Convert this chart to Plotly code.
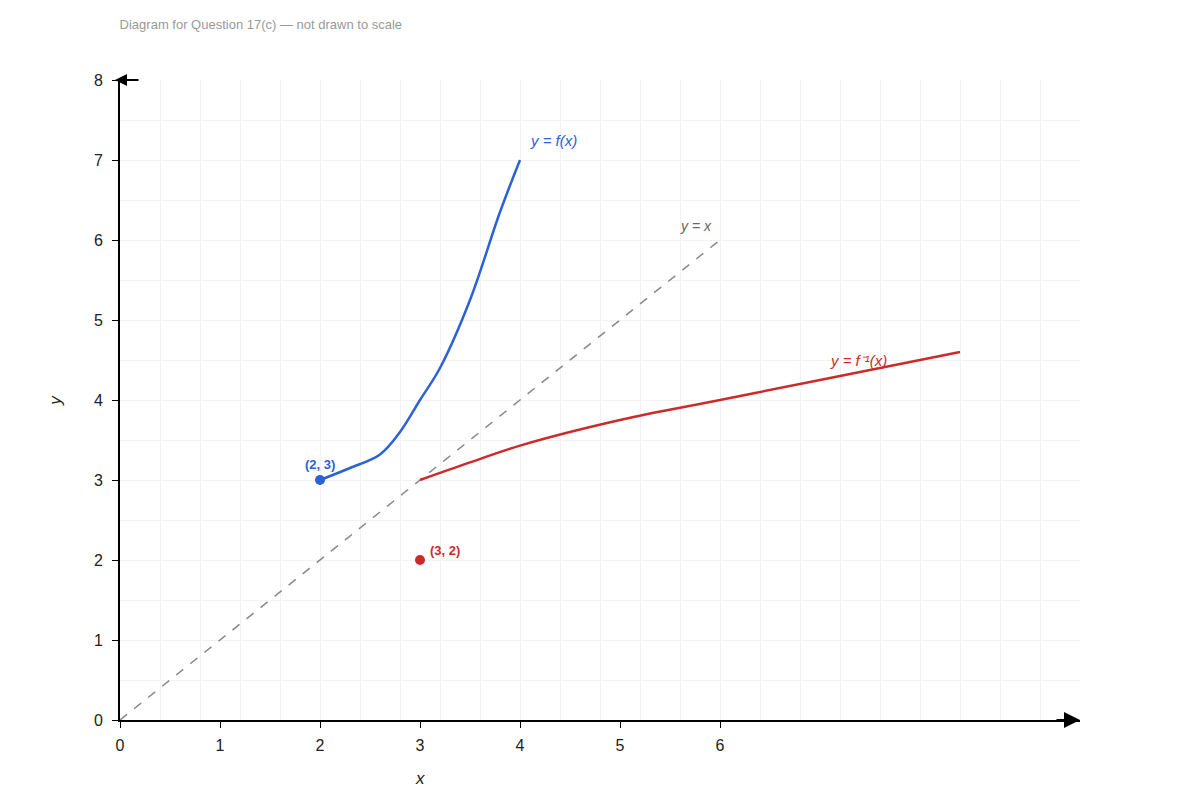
import plotly.graph_objects as go

# Curve points.
f_x = [2.0, 2.3, 2.6, 2.8, 3.0, 3.2, 3.5, 3.8, 4.0]
f_y = [3.0, 3.15, 3.32, 3.6, 4.0, 4.4, 5.25, 6.35, 7.0]
finv_x = [3.0, 3.5, 4.0, 5.0, 6.0, 7.0, 8.4]
finv_y = [3.0, 3.22, 3.43, 3.75, 4.0, 4.25, 4.6]
line_x = [0, 6]
x_ticks = [0, 1, 2, 3, 4, 5, 6]
y_ticks = [0, 1, 2, 3, 4, 5, 6, 7, 8]

fig = go.Figure()
fig.add_scatter(x=line_x, y=line_x, mode='lines',
                line=dict(color='#888888', width=1.5, dash='dash'))
fig.add_scatter(x=f_x, y=f_y, mode='lines',
                line=dict(color='#2b62d6', width=2.5, shape='spline'))
fig.add_scatter(x=finv_x, y=finv_y, mode='lines',
                line=dict(color='#cc2b2b', width=2.5, shape='spline'))
fig.add_scatter(x=[2], y=[3], mode='markers', marker=dict(color='#2b62d6', size=10))
fig.add_scatter(x=[3], y=[2], mode='markers', marker=dict(color='#cc2b2b', size=10))

annotations = [
    dict(x=4.08, y=7.25, text='<i>y = f(x)</i>', font=dict(color='#2b62d6', size=15), xanchor='left'),
    dict(x=5.58, y=6.18, text='<i>y = x</i>', font=dict(color='#666666', size=14), xanchor='left'),
    dict(x=7.08, y=4.5, text='<i>y = f⁻¹(x)</i>', font=dict(color='#cc2b2b', size=15), xanchor='left'),
    dict(x=2.0, y=3.2, text='<b>(2, 3)</b>', font=dict(color='#2b62d6', size=13)),
    dict(x=3.08, y=2.12, text='<b>(3, 2)</b>', font=dict(color='#cc2b2b', size=13), xanchor='left'),
    dict(x=0.305, y=-0.11, xref='paper', yref='paper', text='<i>x</i>',
         font=dict(size=17, color='#222')),
    dict(x=-0.08, y=0.5, xref='paper', yref='paper', text='<i>y</i>',
         font=dict(size=17, color='#222'), textangle=-90),
    # axis arrowheads
    dict(x=9.6, y=0, ax=9.35, ay=0, axref='x', ayref='y', text='', showarrow=True,
         arrowhead=2, arrowsize=1.6, arrowwidth=2, arrowcolor='black'),
    dict(x=-0.05, y=8, ax=0.2, ay=8, axref='x', ayref='y', text='', showarrow=True,
         arrowhead=2, arrowsize=1.2, arrowwidth=2, arrowcolor='black'),
]
for a in annotations:
    a.setdefault('showarrow', False)
    a.setdefault('xref', 'x')
    a.setdefault('yref', 'y')

fig.update_layout(
    width=1200, height=800,
    margin=dict(l=112, r=128, t=72, b=88),
    plot_bgcolor='white', paper_bgcolor='white',
    showlegend=False,
    font=dict(family='Liberation Sans, Arial', size=16, color='#222'),
    annotations=annotations,
    title=dict(text='Diagram for Question 17(c) — not drawn to scale',
               x=0.093, xanchor='left', y=0.985, font=dict(size=13, color='#999999')),
    xaxis=dict(range=[0, 9.6], tickvals=x_ticks, showgrid=False, zeroline=False,
               showline=True, linecolor='black', linewidth=2, ticks='outside',
               ticklen=6, tickcolor='black', ticklabelstandoff=4,
               minor=dict(dtick=0.4, showgrid=True, gridcolor='#f2f2f2', tick0=0)),
    yaxis=dict(range=[0, 8], tickvals=y_ticks, showgrid=False, zeroline=False,
               showline=True, linecolor='black', linewidth=2, ticks='outside',
               ticklen=6, tickcolor='black', ticklabelstandoff=6,
               minor=dict(dtick=0.5, showgrid=True, gridcolor='#f2f2f2', tick0=0)),
)
fig.write_html("out.html")
